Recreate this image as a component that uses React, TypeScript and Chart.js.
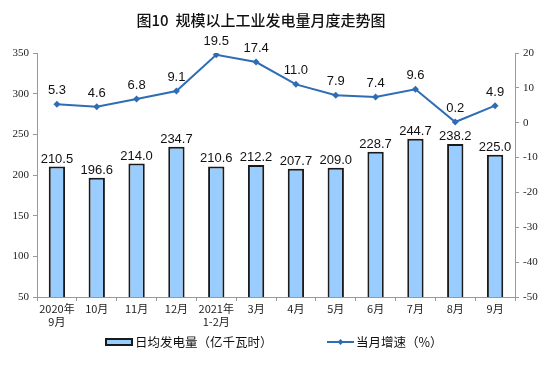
import React, { useEffect, useRef } from "react";
import { Chart, registerables } from "chart.js";

Chart.register(...registerables);

const categories: string[][] = [
  ["2020年", "9月"], ["10月"], ["11月"], ["12月"], ["2021年", "1-2月"], ["3月"],
  ["4月"], ["5月"], ["6月"], ["7月"], ["8月"], ["9月"],
];
const dailyOutput = [210.5, 196.6, 214.0, 234.7, 210.6, 212.2, 207.7, 209.0, 228.7, 244.7, 238.2, 225.0];
const growthRate = [5.3, 4.6, 6.8, 9.1, 19.5, 17.4, 11.0, 7.9, 7.4, 9.6, 0.2, 4.9];
const barLabel = "日均发电量（亿千瓦时）";
const lineLabel = "当月增速（%）";
const titleText = "图10  规模以上工业发电量月度走势图";

const BAR_FILL = "#99ccff";
const BAR_BORDER = "#1a1a1a";
const LINE_COLOR = "#2e6db6";
const CJK = '"Noto Sans CJK SC", sans-serif';

const overlayPlugin = {
  id: "overlay",
  afterDatasetsDraw(chart: any) {
    const ctx = chart.ctx;
    ctx.save();
    // title
    ctx.fillStyle = "#111";
    ctx.font = `500 15px ${CJK}`;
    ctx.textAlign = "center";
    ctx.textBaseline = "middle";
    ctx.fillText(titleText, 261, 20);

    // value labels
    ctx.font = '13px "Liberation Sans", Arial, sans-serif';
    ctx.textBaseline = "bottom";
    const barMeta = chart.getDatasetMeta(0);
    barMeta.data.forEach((el: any, i: number) => {
      ctx.fillText(dailyOutput[i].toFixed(1), el.x, el.y - 1);
    });
    const lineMeta = chart.getDatasetMeta(1);
    lineMeta.data.forEach((el: any, i: number) => {
      ctx.fillText(growthRate[i].toFixed(1), el.x, el.y - 7);
    });

    // legend
    const ly = 342;
    ctx.fillStyle = BAR_FILL;
    ctx.strokeStyle = BAR_BORDER;
    ctx.lineWidth = 2;
    ctx.fillRect(106, ly - 3, 26, 6);
    ctx.strokeRect(106, ly - 3, 26, 6);
    ctx.fillStyle = "#111";
    ctx.font = `12.5px ${CJK}`;
    ctx.textAlign = "left";
    ctx.textBaseline = "middle";
    ctx.fillText(barLabel, 135, ly);

    ctx.strokeStyle = LINE_COLOR;
    ctx.lineWidth = 2;
    ctx.beginPath();
    ctx.moveTo(327, ly);
    ctx.lineTo(354, ly);
    ctx.stroke();
    ctx.fillStyle = LINE_COLOR;
    ctx.beginPath();
    ctx.moveTo(340.5, ly - 3);
    ctx.lineTo(343.5, ly);
    ctx.lineTo(340.5, ly + 3);
    ctx.lineTo(337.5, ly);
    ctx.closePath();
    ctx.fill();
    ctx.fillStyle = "#111";
    ctx.fillText(lineLabel, 356, ly);
    ctx.restore();
  },
};

export default function App() {
  const ref = useRef<HTMLCanvasElement>(null);
  useEffect(() => {
    if (!ref.current) return;
    const chart = new Chart(ref.current, {
      type: "bar",
      data: {
        labels: categories,
        datasets: [
          {
            type: "bar",
            label: barLabel,
            data: dailyOutput,
            backgroundColor: BAR_FILL,
            borderColor: BAR_BORDER,
            borderWidth: 2,
            borderSkipped: false,
            categoryPercentage: 1,
            barPercentage: 0.41,
            yAxisID: "y",
            order: 2,
          },
          {
            type: "line",
            label: lineLabel,
            data: growthRate,
            borderColor: LINE_COLOR,
            backgroundColor: LINE_COLOR,
            borderWidth: 2,
            pointStyle: "rectRot",
            pointRadius: 3.5,
            pointBorderWidth: 0,
            tension: 0,
            yAxisID: "y1",
            order: 1,
          },
        ],
      },
      options: {
        animation: false,
        responsive: false,
        maintainAspectRatio: false,
        layout: { padding: { top: 53, left: 0, right: 0, bottom: 0 } },
        plugins: { legend: { display: false }, title: { display: false }, tooltip: { enabled: false } },
        scales: {
          x: {
            offset: true,
            grid: { display: true, drawOnChartArea: false, offset: true, tickLength: 4, color: "#999" },
            border: { color: "#999", width: 1 },
            ticks: {
              color: "#222",
              font: { family: CJK, size: 11 },
              padding: 1,
              maxRotation: 0,
              autoSkip: false,
            },
            afterFit: (s: any) => { s.height = 77; },
          },
          y: {
            position: "left",
            min: 50,
            max: 350,
            grid: { display: true, drawOnChartArea: false, tickLength: 4, color: "#999" },
            border: { color: "#999", width: 1 },
            ticks: {
              stepSize: 50,
              color: "#222",
              font: { family: '"Liberation Serif", "Times New Roman", serif', size: 11 },
              padding: 4,
            },
            afterFit: (s: any) => { s.width = 37; },
          },
          y1: {
            position: "right",
            min: -50,
            max: 20,
            grid: { display: true, drawOnChartArea: false, tickLength: 4, color: "#999" },
            border: { color: "#999", width: 1 },
            ticks: {
              stepSize: 10,
              color: "#222",
              font: { family: '"Liberation Serif", "Times New Roman", serif', size: 11 },
              padding: 4,
            },
            afterFit: (s: any) => { s.width = 39; },
          },
        },
      },
      plugins: [overlayPlugin],
    });
    return () => chart.destroy();
  }, []);
  return (
    <div style={{ position: "absolute", left: 0, top: 0, width: 554, height: 374, background: "#fff" }}>
      <canvas ref={ref} width={554} height={374} style={{ width: 554, height: 374 }} />
    </div>
  );
}
